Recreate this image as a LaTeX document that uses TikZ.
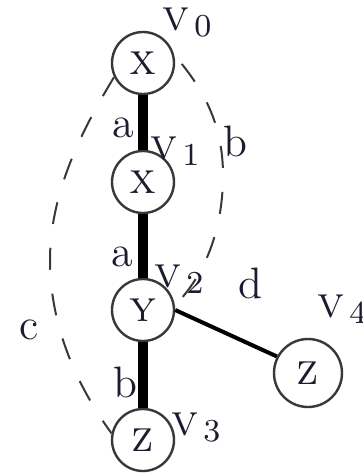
\documentclass[tikz,border=0pt]{standalone}
\usetikzlibrary{positioning}
\definecolor{ink}{HTML}{1C1C30}
\definecolor{rim}{HTML}{383838}
\newcommand{\vname}[1]{\textsc{v}\kern1.2pt$_{#1}$}

\begin{document}
\begin{tikzpicture}[x=0.25pt, y=-0.25pt,
  text=ink, font=\fontsize{11}{13}\selectfont,
  vert/.style={circle, draw=rim, line width=.6pt, minimum size=15.5pt, inner sep=0pt},
  heavy/.style={draw=black, line width=2.5pt},
  light/.style={draw=black, line width=1pt},
  group/.style={draw=rim, line width=.5pt, dash pattern=on 5.5pt off 6pt},
  tag/.style={inner sep=0pt}
]
  \useasboundingbox (0,0) rectangle (363,473);
  \node[vert] (v0) at (143,63) {\textsc{x}};
  \node[vert] (v1) at (143,182) {\textsc{x}};
  \node[vert] (v2) at (143,310) {\textsc{y}};
  \node[vert] (v3) at (143,440) {\textsc{z}};
  \node[vert, minimum size=17pt] (v4) at (308,373) {\textsc{z}};
  \node[tag] (n0) at (188,22) {\vname{0}};
  \node[tag] (n1) at (176,151) {\vname{1}};
  \node[tag] (n2) at (180,279) {\vname{2}};
  \node[tag] (n3) at (197,427) {\vname{3}};
  \node[tag] (n4) at (343,309) {\vname{4}};
  \draw[heavy] (v0) -- (v1);
  \draw[heavy] (v1) -- (v2);
  \draw[heavy] (v2) -- (v3);
  \draw[light] (v2.east) -- (v4.152);
  \node[tag] (la1) at (123,128) {a};
  \node[tag] (la2) at (122,257) {a};
  \node[tag] (lb1) at (125,382) {b};
  \node[tag] (ld) at (250,283) {d};
  % dashed groups
  \draw[group, dash phase=8.5pt] (v0.15) .. controls (200,85) and (223,120) .. (223,175)
    .. controls (223,230) and (205,275) .. (v2.8);
  \draw[group] (v0.206) .. controls (85,125) and (50,190) .. (50,260)
    .. controls (50,330) and (80,390) .. (v3.168);
  \node[tag] (lb2) at (235,141) {b};
  \node[tag] (lc) at (29,330) {c};
\end{tikzpicture}
\end{document}
